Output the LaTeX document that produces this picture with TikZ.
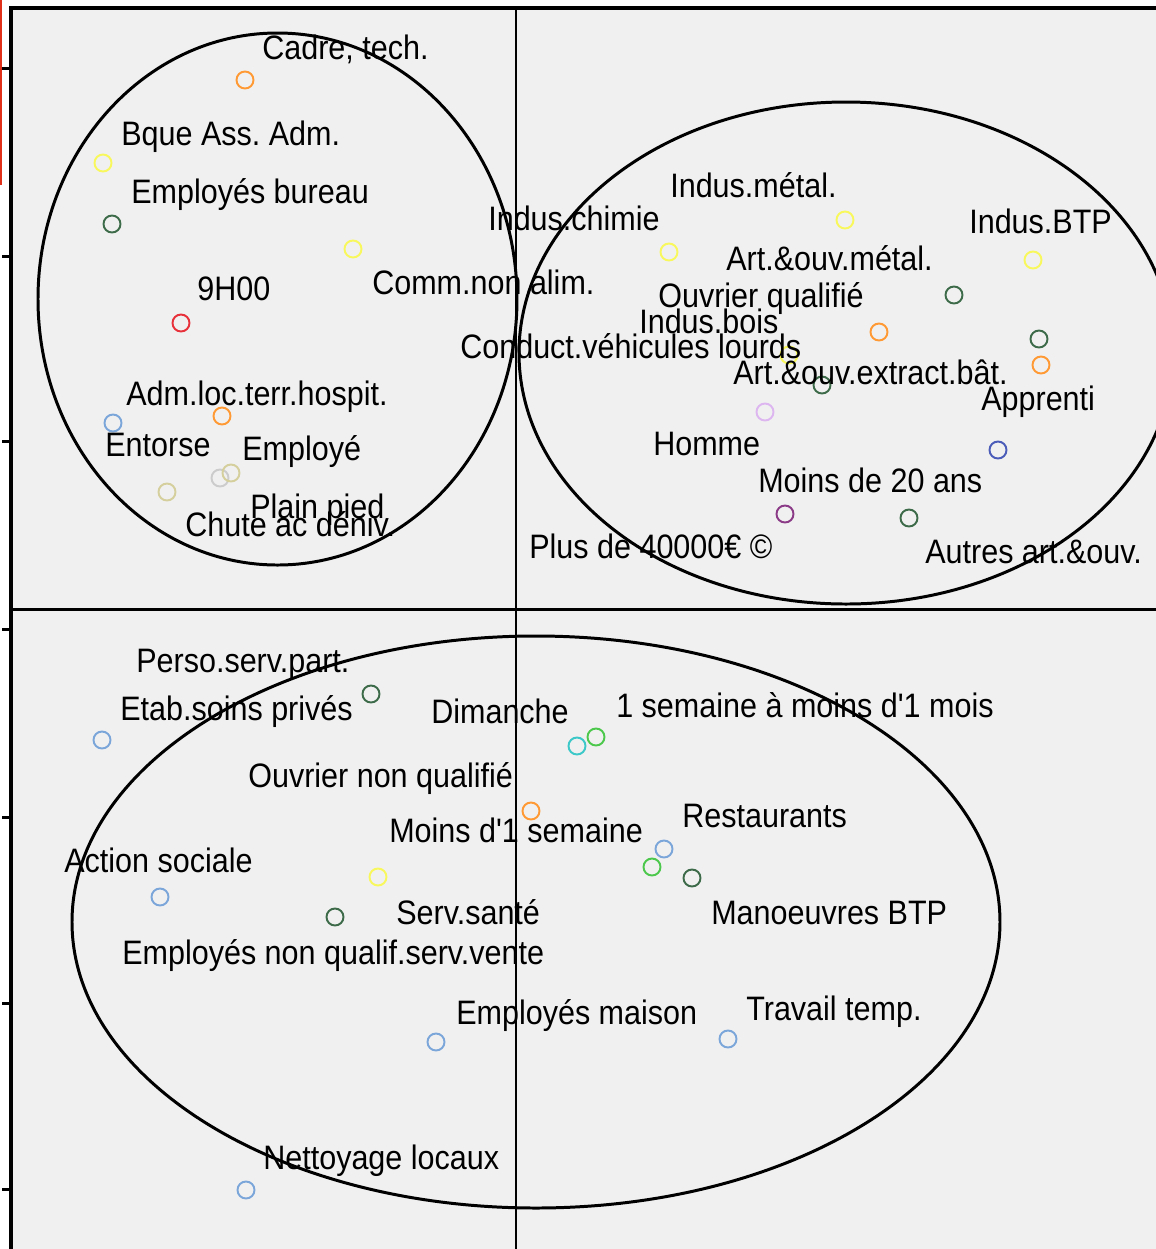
\documentclass[tikz,border=0pt]{standalone}
\usepackage{fontspec}
\setmainfont{Liberation Sans}
\definecolor{panel}{HTML}{F0F0F0}
\definecolor{edgered}{HTML}{E0301A}
\definecolor{ptorange}{HTML}{FF9933}
\definecolor{ptyellow}{HTML}{F8F85C}
\definecolor{ptdkgreen}{HTML}{3D6B4A}
\definecolor{ptred}{HTML}{E8303A}
\definecolor{ptlblue}{HTML}{7BA6DA}
\definecolor{ptkhaki}{HTML}{D4CF9C}
\definecolor{ptgray}{HTML}{CCCCCC}
\definecolor{ptlilac}{HTML}{DDB6F0}
\definecolor{ptblue}{HTML}{4A5CB8}
\definecolor{ptpurple}{HTML}{8A3A86}
\definecolor{ptcyan}{HTML}{3CC8C8}
\definecolor{ptgreen}{HTML}{4CC84C}
\begin{document}
\begin{tikzpicture}[x=0.02cm, y=-0.02cm,
    pt/.style={circle, draw=#1, line width=1.1pt, minimum size=0.34cm, inner sep=0pt},
    lbl/.style={anchor=base west, inner sep=0pt, xscale=0.9, font=\fontsize{19.3}{22}\selectfont\frenchspacing},
    rim/.style={line width=1.7pt}]
  \useasboundingbox (0,0) rectangle (1156,1249);
  \fill[panel] (11,8) rectangle (1156,1249);
  \fill[edgered] (0,0) rectangle (2.5,185);
  \foreach \ty in {68,256,441,629,817,1003,1189}
    \draw[rim] (2,\ty) -- (11,\ty);
  \draw[line width=2pt] (11,1249) -- (11,8) -- (1156,8);
  \draw[rim] (11,609) -- (1156,609);
  \draw[line width=1.1pt] (516,8) -- (516,1249);

  \draw[rim] (277.5,299) ellipse [x radius=239.5, y radius=266];
  \draw[rim] (846,353) ellipse [x radius=327, y radius=251];
  \draw[rim] (536,922) ellipse [x radius=464, y radius=286];

  \node[pt=ptorange] (cadre) at (245,80) {};
  \node[pt=ptyellow] (bque) at (103,163) {};
  \node[pt=ptdkgreen] (empbur) at (112,224) {};
  \node[pt=ptyellow] (comm) at (353,249) {};
  \node[pt=ptred] (neuf) at (181,323) {};
  \node[pt=ptorange] (admloc) at (222,416) {};
  \node[pt=ptlblue] (entorse) at (113,423) {};
  \node[pt=ptgray] (plain) at (220,478) {};
  \node[pt=ptkhaki] (employe) at (231,473) {};
  \node[pt=ptkhaki] (chute) at (167,492) {};

  \node[lbl] (lcadre) at (262,59) {Cadre, tech.};
  \node[lbl] (lbque) at (121,145) {Bque Ass. Adm.};
  \node[lbl] (lempbur) at (131,203) {Employés bureau};
  \node[lbl] (lcomm) at (372,294) {Comm.non alim.};
  \node[lbl] (lneuf) at (197,300) {9H00};
  \node[lbl] (ladmloc) at (126,405) {Adm.loc.terr.hospit.};
  \node[lbl] (lentorse) at (105,456) {Entorse};
  \node[lbl] (lemploye) at (242,460) {Employé};
  \node[lbl] (lplain) at (250,518) {Plain pied};
  \node[lbl] (lchute) at (185,536) {Chute ac déniv.};

  \node[pt=ptyellow] (metal) at (845,220) {};
  \node[pt=ptyellow] (chimie) at (669,252) {};
  \node[pt=ptyellow] (btp) at (1033,260) {};
  \node[pt=ptdkgreen] (artmetal) at (954,295) {};
  \node[pt=ptorange] (ouvq) at (879,332) {};
  \node[pt=ptdkgreen] (artautre) at (1039,339) {};
  \node[pt=ptorange] (apprenti) at (1041,365) {};
  \node[pt=ptyellow] (bois) at (789,355) {};
  \node[pt=ptdkgreen] (extract) at (822,385) {};
  \node[pt=ptlilac] (homme) at (765,412) {};
  \node[pt=ptblue] (moins20) at (998,450) {};
  \node[pt=ptpurple] (plus40) at (785,514) {};
  \node[pt=ptdkgreen] (autres) at (909,518) {};

  \node[lbl] (lmetal) at (670,197) {Indus.métal.};
  \node[lbl] (lchimie) at (488,230) {Indus.chimie};
  \node[lbl] (lbtp) at (969,233) {Indus.BTP};
  \node[lbl] (lartmetal) at (726,270) {Art.\&ouv.métal.};
  \node[lbl] (louvq) at (658,307) {Ouvrier qualifié};
  \node[lbl] (lbois) at (639,333) {Indus.bois};
  \node[lbl] (lconduct) at (460,358) {Conduct.véhicules lourds};
  \node[lbl] (lextract) at (733,384) {Art.\&ouv.extract.bât.};
  \node[lbl] (lapprenti) at (981,410) {Apprenti};
  \node[lbl] (lhomme) at (653,455) {Homme};
  \node[lbl] (lmoins20) at (758,492) {Moins de 20 ans};
  \node[lbl] (lplus40) at (529,558) {Plus de 40000€ ©};
  \node[lbl] (lautres) at (925,563) {Autres art.\&ouv.};

  \node[pt=ptdkgreen] (perso) at (371,694) {};
  \node[pt=ptlblue] (etab) at (102,740) {};
  \node[pt=ptcyan] (dimanche) at (577,746) {};
  \node[pt=ptgreen] (semmois) at (596,737) {};
  \node[pt=ptorange] (ouvnq) at (531,811) {};
  \node[pt=ptlblue] (resto) at (664,849) {};
  \node[pt=ptgreen] (moinssem) at (652,867) {};
  \node[pt=ptdkgreen] (manoeuvre) at (692,878) {};
  \node[pt=ptlblue] (action) at (160,897) {};
  \node[pt=ptyellow] (sante) at (378,877) {};
  \node[pt=ptdkgreen] (vente) at (335,917) {};
  \node[pt=ptlblue] (maison) at (436,1042) {};
  \node[pt=ptlblue] (temp) at (728,1039) {};
  \node[pt=ptlblue] (nettoy) at (246,1190) {};

  \node[lbl] (lperso) at (136,672) {Perso.serv.part.};
  \node[lbl] (letab) at (120,720) {Etab.soins privés};
  \node[lbl] (ldimanche) at (431,723) {Dimanche};
  \node[lbl] (lsemmois) at (616,717) {1 semaine à moins d\textquotesingle 1 mois};
  \node[lbl] (louvnq) at (248,787) {Ouvrier non qualifié};
  \node[lbl] (lmoinssem) at (389,842) {Moins d\textquotesingle 1 semaine};
  \node[lbl] (lresto) at (682,827) {Restaurants};
  \node[lbl] (laction) at (64,872) {Action sociale};
  \node[lbl] (lsante) at (396,924) {Serv.santé};
  \node[lbl] (lmanoeuvre) at (711,924) {Manoeuvres BTP};
  \node[lbl] (lvente) at (122,964) {Employés non qualif.serv.vente};
  \node[lbl] (lmaison) at (456,1024) {Employés maison};
  \node[lbl] (ltemp) at (746,1020) {Travail temp.};
  \node[lbl] (lnettoy) at (263,1169) {Nettoyage locaux};
\end{tikzpicture}
\end{document}
